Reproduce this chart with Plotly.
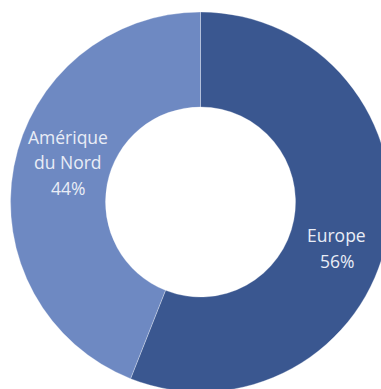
import plotly.graph_objects as go

regions = ["Europe", "Amérique du Nord"]
label_lines = [["Europe"], ["Amérique", "du Nord"]]
shares = [56, 44]
colors = ["#3A5790", "#6E89C2"]

W, H = 401, 404
cx, cy, R = 200.5, 202, 190

fig = go.Figure(go.Pie(
    labels=regions,
    values=shares,
    hole=0.5,
    sort=False,
    direction="clockwise",
    rotation=0,
    marker=dict(colors=colors, line=dict(color="rgba(255,255,255,0.5)", width=0.6)),
    textinfo="none",
    hoverinfo="label+percent",
    showlegend=False,
    domain=dict(x=[(cx - R) / W, (cx + R) / W], y=[(H - cy - R) / H, (H - cy + R) / H]),
))

# label anchor positions (pixel, from top-left) and line spacing
label_pos = [(336.5, 235.5), (68, 136.5)]
line_gap = 25.5
total = sum(shares)
for lines, val, (px, py) in zip(label_lines, shares, label_pos):
    texts = lines + [f"{round(100 * val / total)}%"]
    for i, t in enumerate(texts):
        fig.add_annotation(
            x=px / W, y=1 - (py + i * line_gap) / H,
            xref="paper", yref="paper",
            xanchor="center", yanchor="middle",
            text=t, showarrow=False,
            font=dict(family="Open Sans", size=17.5, color="#E9EDF6"),
        )

fig.update_layout(
    width=W, height=H,
    margin=dict(l=0, r=0, t=0, b=0),
    paper_bgcolor="white",
    plot_bgcolor="white",
)
fig.write_html("out.html", post_script="document.body.style.overflow='hidden';document.documentElement.style.overflow='hidden';")
